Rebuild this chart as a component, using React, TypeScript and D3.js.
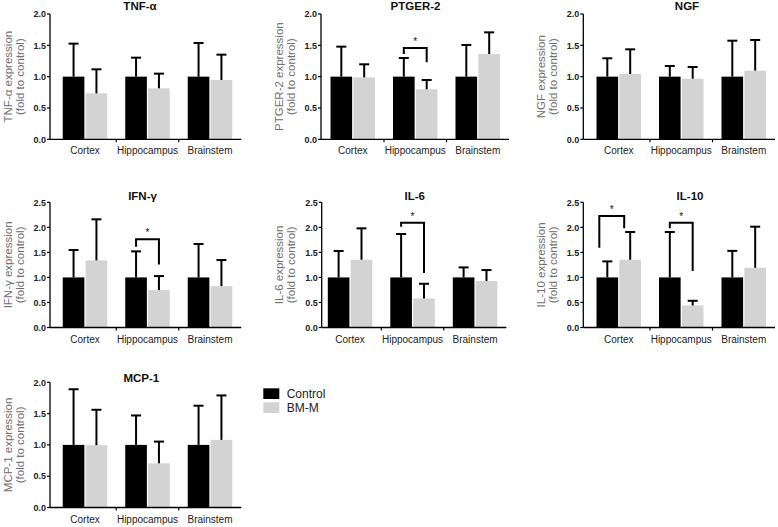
import React from "react";
import * as d3 from "d3";

const categories = ["Cortex", "Hippocampus", "Brainstem"];
const groups = ["Control", "BM-M"];

// means and upper SD for each panel (Cortex, Hippocampus, Brainstem)
const tnfControl = [1, 1, 1];
const tnfControlErr = [0.527, 0.303, 0.537];
const tnfBM = [0.734, 0.814, 0.947];
const tnfBMErr = [0.383, 0.234, 0.404];

const ptgerControl = [1, 1, 1];
const ptgerControlErr = [0.479, 0.298, 0.506];
const ptgerBM = [0.989, 0.798, 1.362];
const ptgerBMErr = [0.208, 0.149, 0.345];

const ngfControl = [1, 1, 1];
const ngfControlErr = [0.293, 0.17, 0.574];
const ngfBM = [1.043, 0.968, 1.096];
const ngfBMErr = [0.393, 0.186, 0.489];

const ifnControl = [1, 1, 1];
const ifnControlErr = [0.547, 0.52, 0.667];
const ifnBM = [1.34, 0.747, 0.827];
const ifnBMErr = [0.82, 0.28, 0.52];

const il6Control = [1, 1, 1];
const il6ControlErr = [0.527, 0.867, 0.2];
const il6BM = [1.353, 0.58, 0.927];
const il6BMErr = [0.627, 0.293, 0.22];

const il10Control = [1, 1, 1];
const il10ControlErr = [0.32, 0.907, 0.53];
const il10BM = [1.353, 0.44, 1.193];
const il10BMErr = [0.554, 0.093, 0.82];

const mcpControl = [1, 1, 1];
const mcpControlErr = [0.889, 0.47, 0.626];
const mcpBM = [0.995, 0.706, 1.08];
const mcpBMErr = [0.566, 0.347, 0.71];

const ticks20 = [0, 0.5, 1.0, 1.5, 2.0];
const ticks25 = [0, 0.5, 1.0, 1.5, 2.0, 2.5];

// significance brackets: panel index, category, top, left-leg end, right-leg end (data units)
const brackets = [
  { panel: 1, cat: "Hippocampus", top: 1.457, left: 1.36, right: 1.229, dxL: 0, dxR: 0 },
  { panel: 3, cat: "Hippocampus", top: 1.76, left: 1.61, right: 1.26, dxL: 0, dxR: 0 },
  { panel: 4, cat: "Hippocampus", top: 2.09, left: 2.01, right: 1.09, dxL: 0, dxR: 0 },
  { panel: 5, cat: "Cortex", top: 2.226, left: 1.59, right: 1.98, dxL: -8, dxR: -6 },
  { panel: 5, cat: "Hippocampus", top: 2.09, left: 1.98, right: 1.13, dxL: 0, dxR: 0 },
];

const panelsData = [
  { title: "TNF-α", c: tnfControl, ce: tnfControlErr, b: tnfBM, be: tnfBMErr, ticks: ticks20 },
  { title: "PTGER-2", c: ptgerControl, ce: ptgerControlErr, b: ptgerBM, be: ptgerBMErr, ticks: ticks20 },
  { title: "NGF", c: ngfControl, ce: ngfControlErr, b: ngfBM, be: ngfBMErr, ticks: ticks20 },
  { title: "IFN-γ", c: ifnControl, ce: ifnControlErr, b: ifnBM, be: ifnBMErr, ticks: ticks25 },
  { title: "IL-6", c: il6Control, ce: il6ControlErr, b: il6BM, be: il6BMErr, ticks: ticks25 },
  { title: "IL-10", c: il10Control, ce: il10ControlErr, b: il10BM, be: il10BMErr, ticks: ticks25 },
  { title: "MCP-1", c: mcpControl, ce: mcpControlErr, b: mcpBM, be: mcpBMErr, ticks: ticks20 },
];

// layout
const rows = [
  { top: 14, zero: 139.3, titleY: 10.4 },
  { top: 202.3, zero: 327.5, titleY: 200 },
  { top: 382.3, zero: 507.5, titleY: 381.8 },
];
const layout = [
  { row: 0, axisX: 50, band0: 53.75, titleX: 140 },
  { row: 0, axisX: 321, band0: 321.5, titleX: 415.5 },
  { row: 0, axisX: 583.3, band0: 587.5, titleX: 687 },
  { row: 1, axisX: 50, band0: 53.75, titleX: 142.5 },
  { row: 1, axisX: 321.7, band0: 318.8, titleX: 414.7 },
  { row: 1, axisX: 583.3, band0: 587.5, titleX: 690 },
  { row: 2, axisX: 50, band0: 53.75, titleX: 141.3 },
];

const FONT = "'Liberation Sans', Arial, Helvetica, sans-serif";
const BLACK = "#000";
const GREY = "#d3d3d3";

function Panel({ idx }: { idx: number }) {
  const p = panelsData[idx];
  const L = layout[idx];
  const R = rows[L.row];
  const yMax = p.ticks[p.ticks.length - 1];
  const y = d3.scaleLinear().domain([0, yMax]).range([R.zero, R.top]);
  const groupW = 62.5;
  const x0 = d3
    .scaleBand<string>()
    .domain(categories)
    .range([L.band0, L.band0 + groupW * 3])
    .paddingInner(0)
    .paddingOuter(0);
  const pairW = 44.5;
  const x1 = d3
    .scaleBand<string>()
    .domain(groups)
    .range([0, pairW])
    .paddingInner(0.055);
  const bw = x1.bandwidth();
  const pairOff = (groupW - pairW) / 2;
  const series = [
    { g: "Control", v: p.c, e: p.ce, fill: BLACK },
    { g: "BM-M", v: p.b, e: p.be, fill: GREY },
  ];
  const xEnd = L.band0 + groupW * 3;
  const labelCY = (R.top + R.zero) / 2;
  const barCenter = (cat: string, g: string) =>
    (x0(cat) as number) + pairOff + (x1(g) as number) + bw / 2;

  return (
    <g>
      <text
        x={L.titleX}
        y={R.titleY}
        textAnchor="middle"
        fontFamily={FONT}
        fontWeight="bold"
        fontSize={11.5}
        fill="#111"
      >
        {p.title}
      </text>
      {/* y label */}
      <text
        transform={`translate(${L.axisX - 38.5},${labelCY}) rotate(-90)`}
        textAnchor="middle"
        fontFamily={FONT}
        fontSize={11.5}
        fill="#707070"
      >
        {p.title + " expression"}
      </text>
      <text
        transform={`translate(${L.axisX - 26.5},${labelCY}) rotate(-90)`}
        textAnchor="middle"
        fontFamily={FONT}
        fontSize={11.5}
        fill="#707070"
      >
        (fold to control)
      </text>
      {/* bars */}
      {series.map((s) =>
        categories.map((cat, i) => {
          const xl = (x0(cat) as number) + pairOff + (x1(s.g) as number);
          return (
            <rect
              key={s.g + cat}
              x={xl}
              y={y(s.v[i])}
              width={bw}
              height={R.zero - y(s.v[i])}
              fill={s.fill}
            />
          );
        })
      )}
      {/* error bars */}
      {series.map((s) =>
        categories.map((cat, i) => {
          const cx = barCenter(cat, s.g);
          const yt = y(s.v[i] + s.e[i]);
          return (
            <g key={"e" + s.g + cat} stroke={BLACK} strokeWidth={2}>
              <line x1={cx} x2={cx} y1={y(s.v[i])} y2={yt} />
              <line x1={cx - 5} x2={cx + 5} y1={yt} y2={yt} />
            </g>
          );
        })
      )}
      {/* y axis */}
      <line x1={L.axisX} x2={L.axisX} y1={R.top} y2={R.zero} stroke={BLACK} strokeWidth={1.3} />
      {p.ticks.map((t) => (
        <g key={"t" + t}>
          <line x1={L.axisX - 3} x2={L.axisX} y1={y(t)} y2={y(t)} stroke={BLACK} strokeWidth={1.2} />
          <text
            x={L.axisX - 4}
            y={y(t) + 3.2}
            textAnchor="end"
            fontFamily={FONT}
            fontWeight="bold"
            fontSize={9}
            fill="#222"
          >
            {d3.format(".1f")(t)}
          </text>
        </g>
      ))}
      {/* x axis */}
      <line x1={L.axisX} x2={xEnd} y1={R.zero} y2={R.zero} stroke={BLACK} strokeWidth={1.3} />
      {[1, 2].map((k) => (
        <line
          key={"sep" + k}
          x1={L.band0 + groupW * k}
          x2={L.band0 + groupW * k}
          y1={R.zero}
          y2={R.zero + 3}
          stroke={BLACK}
          strokeWidth={1.2}
        />
      ))}
      {categories.map((cat) => (
        <text
          key={"c" + cat}
          x={(x0(cat) as number) + groupW / 2}
          y={R.zero + 15}
          textAnchor="middle"
          fontFamily={FONT}
          fontSize={10}
          fill="#222"
        >
          {cat}
        </text>
      ))}
      {/* significance */}
      {brackets
        .filter((b) => b.panel === idx)
        .map((b, k) => {
          const xl = barCenter(b.cat, "Control") + b.dxL;
          const xr = barCenter(b.cat, "BM-M") + b.dxR;
          const yt = y(b.top);
          return (
            <g key={"b" + k}>
              <path
                d={`M${xl},${y(b.left)}V${yt}H${xr}V${y(b.right)}`}
                fill="none"
                stroke={BLACK}
                strokeWidth={2}
              />
              <text
                x={(xl + xr) / 2}
                y={yt - 3}
                textAnchor="middle"
                fontFamily={FONT}
                fontSize={10}
                fill="#111"
              >
                *
              </text>
            </g>
          );
        })}
    </g>
  );
}

export default function App() {
  return (
    <div style={{ position: "absolute", left: 0, top: 0 }}>
      <svg width={778} height={527} style={{ display: "block", background: "#fff" }}>
        {panelsData.map((_, i) => (
          <Panel key={i} idx={i} />
        ))}
        {/* legend */}
        {groups.map((g, i) => (
          <g key={g}>
            <rect x={263.3} y={388.3 + i * 14} width={16} height={10.7} fill={i === 0 ? BLACK : GREY} />
            <text x={286.7} y={397.6 + i * 14.3} fontFamily={FONT} fontSize={12} fill="#222">
              {g}
            </text>
          </g>
        ))}
      </svg>
    </div>
  );
}
